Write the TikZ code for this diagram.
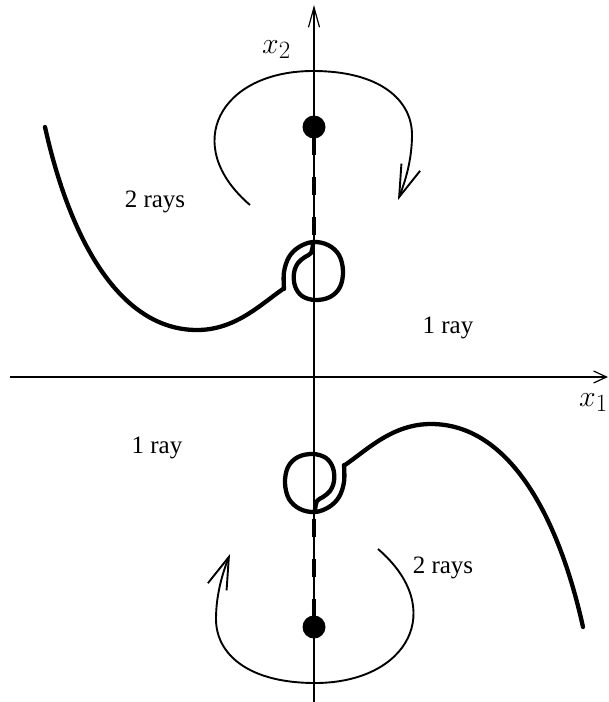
\documentclass[tikz,border=0pt]{standalone}
\usepackage{fontspec}
\setmainfont{Liberation Serif}
\usetikzlibrary{arrows.meta}
\begin{document}
\begin{tikzpicture}[x=1pt,y=-1pt,
  axis/.style={line width=1.2pt},
  curve/.style={line width=4.3pt, line join=round, line cap=round},
  flow/.style={line width=1.9pt},
  dot/.style={circle, fill=black, inner sep=0pt, minimum size=23pt},
  lbl/.style={font=\fontsize{25}{30}\selectfont, anchor=base, inner sep=0pt},
  mlbl/.style={font=\fontsize{24.88}{30}\selectfont, anchor=base west, inner sep=0pt, scale=1.2}]
\useasboundingbox (0,0) rectangle (609,702);
% axes
\coordinate (vb) at (314,702);
\coordinate (vt) at (314,5);
\coordinate (hl) at (10,377);
\coordinate (hr) at (608,377);
\draw[axis, -{Straight Barb[length=20pt,width=11pt,line width=1.2pt]}] (vb) -- (vt);
\draw[axis, -{Straight Barb[length=13pt,width=12pt,line width=1.2pt]}] (hl) -- (hr);
\node[mlbl] (x2) at (262,53) {$x_2$};
\node[mlbl] (x1) at (579,406) {$x_1$};
% labels
\node[lbl] (r2a) at (155,207) {2 rays};
\node[lbl] (r1a) at (448,333) {1 ray};
\node[lbl] (r1b) at (157,453) {1 ray};
\node[lbl] (r2b) at (443,573) {2 rays};
% upper half and its point reflection
\foreach \r in {0,180}{
\begin{scope}[rotate around={\r:(314,377)}]
  \node[dot] (d\r) at (314,127) {};
  \draw[line width=4.3pt, dash pattern=on 18pt off 22pt] (314,137) -- (314,240);
  \draw[curve] (45,127) .. controls (70,240) and (120,330) .. (197,330)
    .. controls (235,330) and (260,305) .. (283,289)
    -- plot[smooth, tension=0.6] coordinates {(284,289) (284,272) (289,257) (299,247) (313,242) (328,245) (339,255) (343,271) (340,287) (330,297) (315,300) (302,296) (295,286) (294,273) (298,263) (305,257) (311,253) (313,244)};
  \draw[flow, -{Straight Barb[length=32pt,width=20pt,line width=1.9pt]}]
    (250,205) .. controls (180,145) and (220,71) .. (313,71)
    .. controls (380,71) and (412,100) .. (412,135)
    .. controls (412,160) and (405,182) .. (398,200);
\end{scope}}
\end{tikzpicture}
\end{document}
